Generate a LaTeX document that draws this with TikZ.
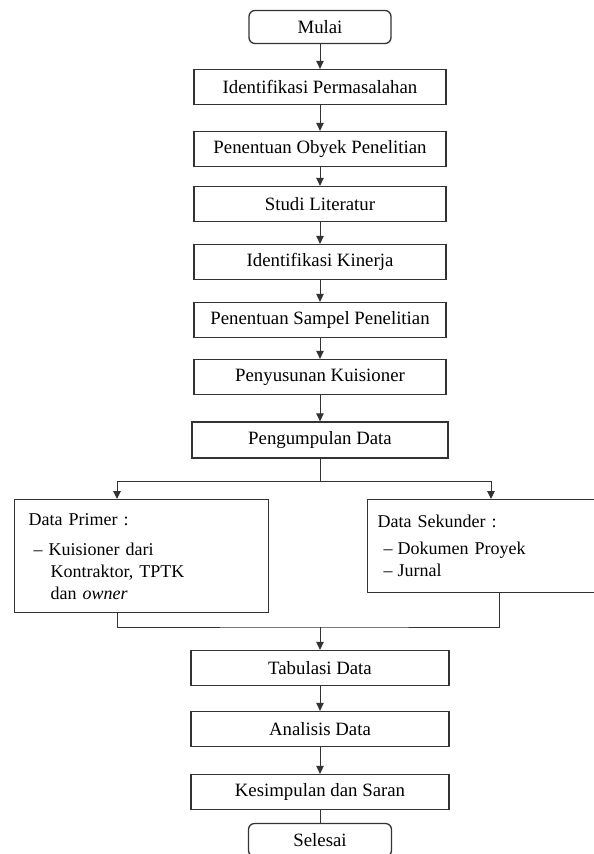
\documentclass[tikz,border=0pt]{standalone}
\usepackage{fontspec}
\setmainfont{Liberation Serif}
\usetikzlibrary{arrows.meta,positioning,calc}
\definecolor{lineclr}{HTML}{333333}

\begin{document}
\begin{tikzpicture}[x=1pt, y=-1pt,
    box/.style={rectangle, draw=lineclr, line width=1.3pt, minimum width=252pt, minimum height=35pt, inner sep=0pt, font=\fontsize{18.8}{22}\selectfont},
    term/.style={box, rounded corners=6pt, minimum width=142pt, minimum height=33pt},
    databox/.style={rectangle, draw=lineclr, line width=1.3pt, anchor=north west, align=left, font=\fontsize{18}{22}\selectfont},
    arrow/.style={-{Triangle[length=8pt, width=7.5pt]}, line width=1pt, draw=lineclr},
    link/.style={line width=1pt, draw=lineclr}
]
\useasboundingbox (0,0) rectangle (594,854);

% Upper flow
\node[term] (mulai) at (320,27) {Mulai};
\node[box] (identif) at (320,87) {Identifikasi Permasalahan};
\node[box] (obyek) at (320,149) {Penentuan Obyek Penelitian};
\node[box] (studi) at (320,204) {Studi Literatur};
\node[box] (kinerja) at (320,262) {Identifikasi Kinerja};
\node[box] (sampel) at (320,320) {Penentuan Sampel Penelitian};
\node[box] (kuisioner) at (320,377) {Penyusunan Kuisioner};
\node[box, minimum width=256pt, minimum height=36pt] (kumpul) at (320,440) {Pengumpulan Data};

% Data sources
\node[databox, minimum width=254pt, minimum height=113pt, text width=226pt, inner xsep=14pt] (primer) at (14,499) {Data Primer :\\[8pt]
\hspace*{5pt}–\hspace*{6pt}Kuisioner dari\\
\hspace*{22pt}Kontraktor, TPTK\\
\hspace*{22pt}dan \textit{owner}};
\node[databox, minimum width=227pt, minimum height=93pt, text width=207pt, inner xsep=10pt] (sekunder) at (367,499) {Data Sekunder :\\[5pt]
\hspace*{6pt}–\hspace*{5pt}Dokumen Proyek\\
\hspace*{6pt}–\hspace*{5pt}Jurnal};

% Lower flow
\node[box, minimum width=258pt] (tabulasi) at (320,668) {Tabulasi Data};
\node[box, minimum width=258pt] (analisis) at (320,729) {Analisis Data};
\node[box, minimum width=258pt] (simpul) at (320,792) {Kesimpulan dan Saran};
\node[term, minimum width=143pt] (selesai) at (320,840) {Selesai};

% Arrows
\draw[arrow] (mulai) -- (identif);
\draw[arrow] (identif) -- (obyek);
\draw[arrow] (obyek) -- (studi);
\draw[arrow] (studi) -- (kinerja);
\draw[arrow] (kinerja) -- (sampel);
\draw[arrow] (sampel) -- (kuisioner);
\draw[arrow] (kuisioner) -- (kumpul);

\coordinate (split) at (320,481);
\draw[link] (kumpul) -- (split);
\draw[arrow] (split) -| ([xshift=103pt]primer.north west);
\draw[arrow] (split) -| ([xshift=124pt]sekunder.north west);

\coordinate (merge) at (320,627);
\draw[link] ([xshift=103pt]primer.south west) |- (merge) -| ([xshift=132pt]sekunder.south west);
\draw[arrow] (merge) -- (tabulasi);
\draw[arrow] (tabulasi) -- (analisis);
\draw[arrow] (analisis) -- (simpul);
\draw[link] (simpul) -- (selesai);

\end{tikzpicture}
\end{document}
